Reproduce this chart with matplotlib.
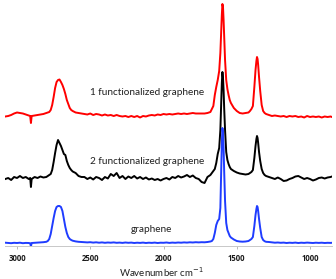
import matplotlib
matplotlib.use("Agg")
import matplotlib.pyplot as plt

# Raman spectra (intensity above each trace's baseline, a.u.)
wavenumber = [
    3080, 3060, 3040, 3020, 3000, 2980, 2960, 2940, 2920, 2910,
    2905, 2900, 2880, 2860, 2840, 2820, 2800, 2790, 2780, 2770,
    2760, 2750, 2740, 2730, 2720, 2710, 2700, 2690, 2680, 2670,
    2660, 2650, 2640, 2630, 2620, 2600, 2580, 2560, 2540, 2520,
    2500, 2480, 2460, 2440, 2420, 2400, 2380, 2360, 2340, 2320,
    2300, 2280, 2260, 2240, 2220, 2200, 2180, 2160, 2140, 2120,
    2100, 2080, 2060, 2040, 2020, 2000, 1980, 1960, 1940, 1920,
    1900, 1880, 1860, 1840, 1820, 1800, 1780, 1760, 1740, 1720,
    1700, 1680, 1670, 1660, 1650, 1640, 1630, 1620, 1612, 1606,
    1602, 1598, 1594, 1590, 1586, 1580, 1572, 1564, 1556, 1548,
    1540, 1520, 1500, 1480, 1460, 1440, 1420, 1410, 1400, 1390,
    1380, 1372, 1366, 1362, 1358, 1354, 1348, 1340, 1330, 1320,
    1310, 1300, 1280, 1260, 1240, 1220, 1200, 1180, 1160, 1140,
    1120, 1100, 1080, 1060, 1040, 1020, 1000, 980, 960, 940,
    920, 900, 880, 860, 850,
]

func1 = [
    -1.5, -1, 0, 1.5, 2.5, 2, 1.5, 0.5, -0.5, -1,
    -8, -1, -0.5, 0, 0.5, 1, 2, 2.5, 3, 5,
    10, 18, 27, 33, 35, 35.5, 33, 30, 26, 21,
    15, 11, 7, 5, 4, 2.5, 2, 1.5, 1, 0.5,
    1.5, 0, 1, 0.5, -0.5, 0.5, -0.5, 0, -1, 0,
    -1, -1.5, -1, -2, -1, -2, -1, -2.5, -1, -1.5,
    -0.5, 0, -0.5, 0.5, 0, 1, 0.5, 1, 0.5, 1,
    1.5, 1, 1.5, 1, 1.5, 2, 1.5, 1.5, 1.5, 1.5,
    2, 3, 6, 9, 20, 28, 35, 44, 62, 85,
    100, 111, 108, 95, 78, 55, 35, 26, 20, 15,
    12, 7, 4, 2, 1.5, 2, 2.5, 4, 6, 9,
    28, 45, 54, 58, 56, 50, 38, 24, 10, 4,
    2, 1, 0, -1, -0.5, -1, -1.5, -1, -2, -1,
    -1.5, -1, -2, -1.5, -2.5, -1, -2, -1.5, -2, -1.5,
    -2.5, -1.5, -2, -1.5, -2,
]

func2 = [
    -1, 0, -2, 1, 0, 2, 0, 1, -1, 0,
    -9, -1, 1, 0, 1.5, 0.5, 1, 2, 3, 4,
    8, 16, 25, 33, 38, 35, 32, 28, 24, 23,
    17, 13, 10, 8, 6.5, 5, 2, 1, 1, -1,
    0.5, -1.5, 1, 0, -2, 1, -0.5, 4, 2, 5,
    0, 2, -1, 1.5, 0, 2, -0.5, 1, -1, 0.5,
    -1.5, -0.5, -2, -1, -2.5, -1, 0, -1.5, 1, 0,
    2, 0.5, 1.5, 3, 1, 2.5, 0, -1, -4, -5,
    1, 3, 5, 7, 9, 15, 24, 30, 48, 75,
    95, 106, 100, 88, 70, 48, 26, 18, 14, 11,
    9, 7, 5.5, 4.5, 4, 3.5, 4, 5, 6, 8,
    20, 32, 39, 42, 40, 35, 26, 17, 9, 5,
    3, 2, 1, 0, -1, 0.5, -1, -3, -2.5, -1,
    0, 1.5, 2, 0.5, -1, 0, -1, -2.5, -1.5, 0,
    0.5, -0.5, 0.5, 1, 1.5,
]

pristine = [
    0.3, 0, -0.2, 0.2, 0, 0.3, -0.2, 0.1, 0, -0.3,
    -3.5, 0, 0.2, 0.4, 0.5, 0.8, 1.2, 2, 4, 9,
    17, 25, 32, 36, 37, 37, 36, 32, 24, 16,
    10, 6, 4, 3, 2.3, 1.6, 1.2, 1, 0.8, 0.6,
    0.8, 0.4, 0.7, 0.3, 0.6, 0.2, 0.5, 0.3, 0.6, 0.2,
    0.4, 0.1, 0.5, 0.2, 0.4, 0, 0.3, 0.1, 0.4, 0,
    0.3, 0.1, 0.4, 0, 0.3, 0.2, 0.5, 0.1, 0.4, 0.2,
    0.5, 0.3, 0.6, 0.4, 0.7, 0.5, 0.8, 0.6, 0.8, 0.7,
    1, 1.5, 2, 4, 10, 18, 22, 24, 35, 75,
    100, 115, 110, 95, 72, 42, 20, 13, 10, 7,
    5.5, 3.5, 2, 1.5, 1.3, 1.5, 2, 3, 4, 6,
    17, 28, 34, 37, 36, 32, 24, 15, 6, 3,
    1.8, 1.2, 1, 0.6, 0.3, 0.5, 0.2, 0.4, 0, 0.3,
    0.1, 0.4, 0, 0.3, 0.1, 0.4, 0.2, 0, 0.3, 0.1,
    0.3, 0, 0.2, 0.1, 0.2,
]

labels = ['1 functionalized graphene', '2 functionalized graphene', 'graphene']
xticks = [3000, 2500, 2000, 1500, 1000]

W, H = 336, 279
fig = plt.figure(figsize=(W / 100, H / 100), dpi=100)
ax = fig.add_axes([5 / W, 33 / H, 327 / W, 246 / H])

ax.plot(wavenumber, [v + 131 for v in func1], color='#ff0000', lw=1.4)
ax.plot(wavenumber, [v + 68 for v in func2], color='#000000', lw=1.4)
ax.plot(wavenumber, [v + 3 for v in pristine], color='#1f3cff', lw=1.4)

ax.set_xlim(3082, 850)
ax.set_ylim(0, 246)
ax.set_yticks([])
ax.set_xticks(xticks)
ax.set_xticklabels([str(t) for t in xticks], fontfamily='Open Sans',
                   fontweight='bold', fontsize=5.6, color='#1a1a1a')
ax.tick_params(axis='x', direction='out', length=2.5, width=0.6,
               color='#b0b0b0', pad=3)
for side in ['top', 'left', 'right']:
    ax.spines[side].set_visible(False)
ax.spines['bottom'].set_color('#c8c8c8')
ax.spines['bottom'].set_linewidth(0.7)

for txt, (px, py) in zip(labels, [(146.7, 92.7), (147.5, 161.7), (151, 230)]):
    fig.text(px / W, 1 - py / H, txt, ha='center', va='center',
             fontfamily='Lato', fontsize=7.2, color='#202020')

fig.text(161 / W, 1 - 271.7 / H, 'Wavenumber cm$^{-1}$', ha='center', va='center',
         fontfamily='Lato', fontsize=7, color='#202020')

fig.savefig('out.png', dpi=100)
